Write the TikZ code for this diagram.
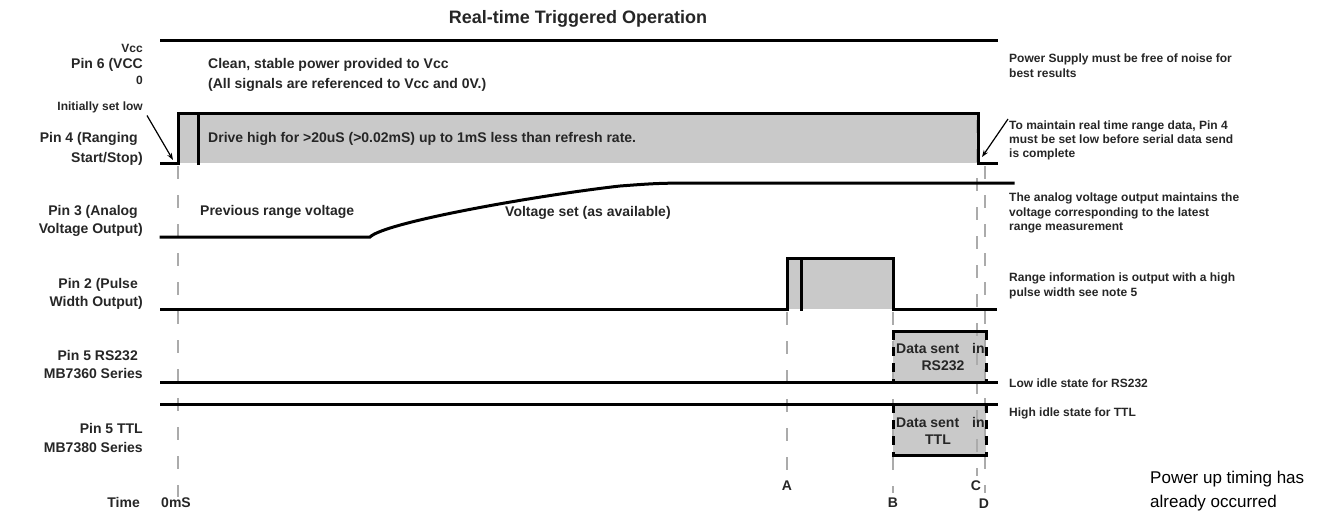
\documentclass[tikz,border=0pt]{standalone}
\usepackage{fontspec}
\setmainfont{Liberation Sans}
\usetikzlibrary{arrows.meta}
\begin{document}
\begin{tikzpicture}[x=1pt,y=-1pt,
  sig/.style={line width=3pt, line join=miter, line cap=rect, black},
  edgedash/.style={line width=3pt, black, dash pattern=on 9pt off 7pt},
  fillbox/.style={fill=black!21},
  guide/.style={draw=black!33, line width=2pt, dash pattern=on 13pt off 16pt},
  lab/.style={font=\fontsize{14}{16}\selectfont\bfseries, text=black!85, inner sep=0pt, text height=10pt, text depth=0pt},
  note/.style={font=\fontsize{12}{14}\selectfont\bfseries, text=black!85, inner sep=0pt, text height=8.6pt, text depth=0pt},
  plain/.style={font=\fontsize{17}{20}\selectfont, text=black, inner sep=0pt, text height=12.2pt, text depth=0pt},
  ttl/.style={font=\fontsize{18}{20}\selectfont\bfseries, text=black!85, inner sep=0pt, text height=12.9pt, text depth=0pt},
  pointer/.style={line width=1.2pt, black, -{Stealth[length=7pt,width=5pt]}}
]
\useasboundingbox (0,0) rectangle (1336,512);

% title
\node[ttl] (title) at (578,17) {Real-time Triggered Operation};

% fills
\fill[fillbox] (178,113) rectangle (978,163);
\fill[fillbox] (787,258) rectangle (893,309);
\fill[fillbox] (893,331) rectangle (986,382);
\fill[fillbox] (893,404) rectangle (986,455);

% guide lines
\draw[guide] (178,166) -- (178,497);
\draw[guide] (787,312) -- (787,476);
\draw[guide] (893,312) -- (893,493);
\draw[guide] (977,120) -- (977,476);
\draw[guide] (985,166) -- (985,493);

% Pin 6 (Vcc)
\draw[sig] (161,40) -- (996,40);
% Pin 4
\draw[sig] (161,163) -- (178,163) -- (178,113) -- (978,113) -- (978,163) -- (996,163);
\draw[sig] (198,113) -- (198,163);
% Pin 3
\draw[sig] (161,237) -- (370,237) .. controls (385,222) and (540,195) .. (620,186) .. controls (660,183) .. (720,183) -- (1013,183);
% Pin 2
\draw[sig] (161,309) -- (787,309) -- (787,258) -- (893,258) -- (893,309) -- (995,309);
\draw[sig] (801,258) -- (801,309);
% Pin 5 RS232
\draw[sig] (161,382) -- (996,382);
\draw[sig] (893,331) -- (986,331);
\draw[edgedash] (893,331) -- (893,382);
\draw[edgedash] (986,331) -- (986,382);
% Pin 5 TTL
\draw[sig] (161,404) -- (996,404);
\draw[sig] (893,455) -- (986,455);
\draw[edgedash] (893,404) -- (893,455);
\draw[edgedash] (986,404) -- (986,455);

% box texts
\node[lab, anchor=west] (ds1) at (896,348) {Data sent};
\node[lab] (rs) at (943,365) {RS232};
\node[lab, anchor=west] (ds2) at (896,422) {Data sent};
\node[lab] (tt) at (938,439) {TTL};
\begin{scope}
\clip (960,331) rectangle (985,455);
\node[lab, anchor=west] (in1) at (972,348) {in};
\node[lab, anchor=west] (in2) at (972,422) {in};
\end{scope}

% left labels
\node[note, anchor=east] (vccL) at (143,48) {Vcc};
\node[lab, anchor=east] (p6) at (143,63) {Pin 6 (VCC};
\node[note, anchor=east] (zeroL) at (143,80) {0};
\node[note, anchor=east] (initlow) at (143,106) {Initially set low};
\node[lab, anchor=east] (p4a) at (138,137) {Pin 4 (Ranging};
\node[lab, anchor=east] (p4b) at (143,157) {Start/Stop)};
\node[lab, anchor=east] (p3a) at (138,210) {Pin 3 (Analog};
\node[lab, anchor=east] (p3b) at (143,228) {Voltage Output)};
\node[lab, anchor=east] (p2a) at (138,283) {Pin 2 (Pulse};
\node[lab, anchor=east] (p2b) at (143,301) {Width Output)};
\node[lab, anchor=east] (p5a) at (138,355) {Pin 5 RS232};
\node[lab, anchor=east] (p5b) at (143,373) {MB7360 Series};
\node[lab, anchor=east] (p5c) at (143,428) {Pin 5 TTL};
\node[lab, anchor=east] (p5d) at (143,447) {MB7380 Series};
\node[lab, anchor=east] (timeL) at (140,502) {Time};

% inner texts
\node[lab, anchor=west] (clean) at (208,63) {Clean, stable power provided to Vcc};
\node[lab, anchor=west] (allsig) at (208,83) {(All signals are referenced to Vcc and 0V.)};
\node[lab, anchor=west] (drive) at (208,137) {Drive high for >20uS (>0.02mS) up to 1mS less than refresh rate.};
\node[lab, anchor=west] (prev) at (200,210) {Previous range voltage};
\node[lab, anchor=west] (vset) at (505,211) {Voltage set (as available)};

% time labels
\node[lab] (t0) at (176,502) {0mS};
\node[lab] (tA) at (787,485) {A};
\node[lab] (tB) at (893,502) {B};
\node[lab] (tC) at (976,485) {C};
\node[lab] (tD) at (984,503) {D};

% right notes
\node[note, anchor=west] (n1a) at (1009,58) {Power Supply must be free of noise for};
\node[note, anchor=west] (n1b) at (1009,73) {best results};
\node[note, anchor=west] (n2a) at (1009,125) {To maintain real time range data, Pin 4};
\node[note, anchor=west] (n2b) at (1009,139) {must be set low before serial data send};
\node[note, anchor=west] (n2c) at (1009,153) {is complete};
\node[note, anchor=west] (n3a) at (1009,197) {The analog voltage output maintains the};
\node[note, anchor=west] (n3b) at (1009,212) {voltage corresponding to the latest};
\node[note, anchor=west] (n3c) at (1009,226) {range measurement};
\node[note, anchor=west] (n4a) at (1009,277) {Range information is output with a high};
\node[note, anchor=west] (n4b) at (1009,292) {pulse width see note 5};
\node[note, anchor=west] (n5) at (1009,383) {Low idle state for RS232};
\node[note, anchor=west] (n6) at (1009,412) {High idle state for TTL};
\node[plain, anchor=west] (pu1) at (1150,477) {Power up timing has};
\node[plain, anchor=west] (pu2) at (1150,501) {already occurred};

% pointers
\coordinate (lowtip) at (173,160);
\coordinate (rtip) at (982,157);
\draw[pointer] ([xshift=4pt,yshift=-5pt]initlow.south east) -- (lowtip);
\draw[pointer] ([xshift=-1pt,yshift=6pt]n2a.west) -- (rtip);
\end{tikzpicture}
\end{document}
